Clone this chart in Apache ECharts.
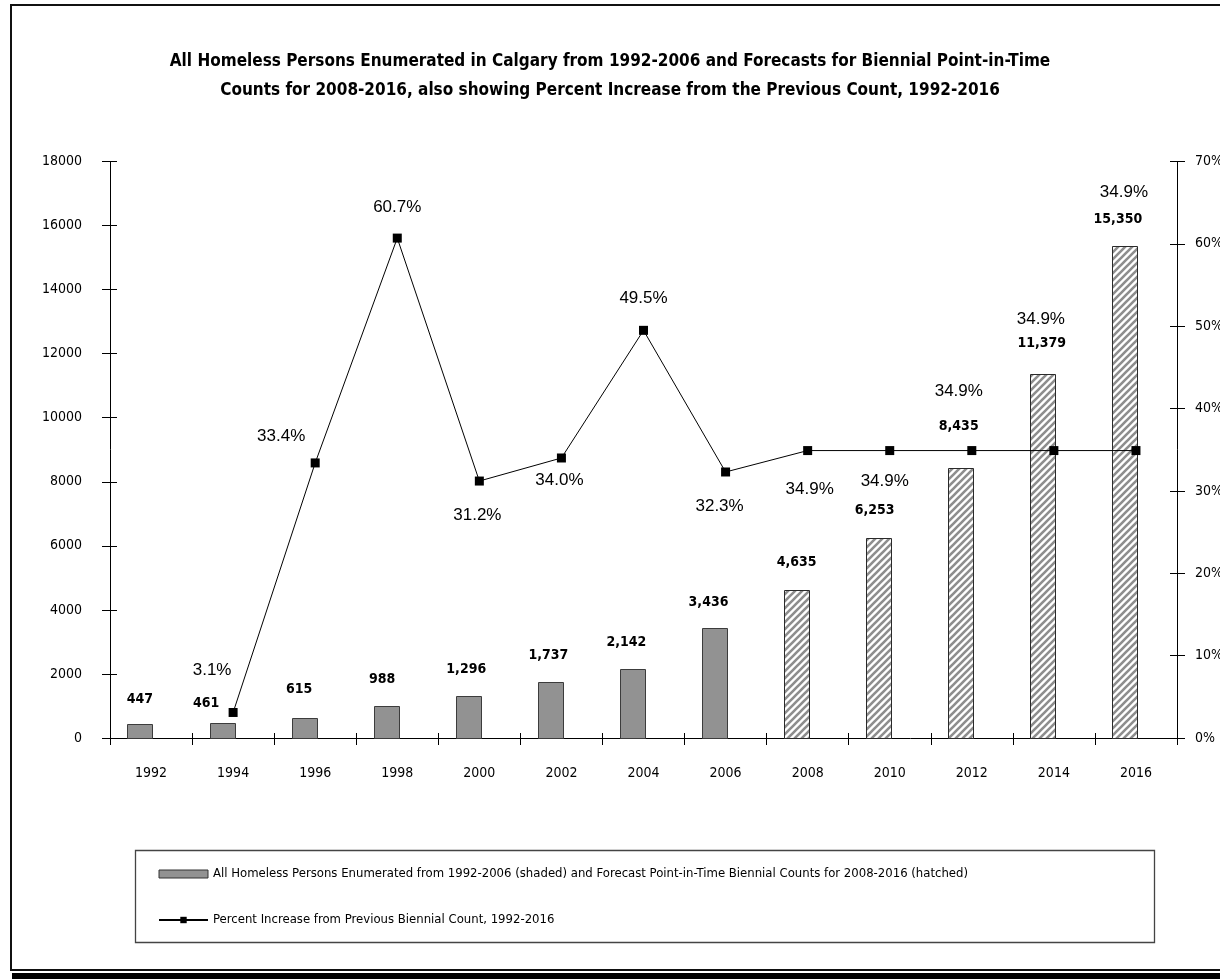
<!DOCTYPE html>
<html>
<head>
<meta charset="utf-8">
<script src="https://cdn.jsdelivr.net/npm/echarts@6/dist/echarts.min.js"></script>
<style>
html,body{margin:0;padding:0;background:#fff;}
#chart{width:1220px;height:979px;}
</style>
</head>
<body>
<div id="chart"></div>
<script>
// ---------- DATA ----------
const years = ['1992','1994','1996','1998','2000','2002','2004','2006','2008','2010','2012','2014','2016'];
const homelessCounts = [447, 461, 615, 988, 1296, 1737, 2142, 3436, 4635, 6253, 8435, 11379, 15350];
const percentIncrease = [null, 3.1, 33.4, 60.7, 31.2, 34.0, 49.5, 32.3, 34.9, 34.9, 34.9, 34.9, 34.9];
const firstForecastYear = '2008';
const leftTicks = [0, 2000, 4000, 6000, 8000, 10000, 12000, 14000, 16000, 18000];
const rightTicks = [0, 10, 20, 30, 40, 50, 60, 70];

const titleText = 'All Homeless Persons Enumerated in Calgary from 1992-2006 and Forecasts for Biennial Point-in-Time\nCounts for 2008-2016, also showing Percent Increase from the Previous Count, 1992-2016';
const barSeriesName = 'All Homeless Persons Enumerated from 1992-2006 (shaded) and Forecast Point-in-Time Biennial Counts for 2008-2016 (hatched)';
const lineSeriesName = 'Percent Increase from Previous Biennial Count, 1992-2016';

// ---------- STYLE / LABEL PLACEMENT (pixels, not data) ----------
const barLabelNudge = [[0,-24],[-16,-20],[-5,-29],[-4,-27],[-2,-27],[-2,-27],[-6,-27],[-6,-26],[0,-27],[-4,-27],[-2,-41],[-1,-30],[-7,-27]];
const lineLabelNudge = [null,[-21,-42],[-34,-27],[0,-31],[-2,34],[-2,22],[0,-32],[-6,34],[2,39],[-5,31],[-13,-59],[-13,-131],[-12,-258]];

const NARROW = '"Liberation Sans Narrow","Arial Narrow","DejaVu Sans Condensed",sans-serif';
const REG = '"Liberation Sans",Arial,sans-serif';

function makeHatch() {
  const n = 7;
  const c = document.createElement('canvas');
  c.width = n; c.height = n;
  const g = c.getContext('2d');
  g.fillStyle = '#ffffff';
  g.fillRect(0, 0, n, n);
  g.strokeStyle = '#8e8e8e';
  g.lineWidth = 2.6;
  g.beginPath();
  for (const o of [-n, 0, n]) {
    g.moveTo(o - 1, n + 1);
    g.lineTo(o + n + 1, -1);
  }
  g.stroke();
  return c;
}
const hatchPattern = { image: makeHatch(), repeat: 'repeat' };
const forecastIdx = years.indexOf(firstForecastYear);

const fmtThousands = v => String(v).replace(/\B(?=(\d{3})+(?!\d))/g, ',');

const chart = echarts.init(document.getElementById('chart'));

const axisLineStyle = { show: true, lineStyle: { color: '#000', width: 1 } };

const option = {
  backgroundColor: '#fff',
  animation: false,
  title: {
    text: titleText,
    left: 'center',
    top: 42,
    textStyle: { fontFamily: NARROW, fontSize: 17, fontWeight: 'bold', color: '#000', lineHeight: 29 }
  },
  grid: { left: 110, right: 43, top: 161.5, bottom: 241, outerBoundsMode: 'none' },
  legend: {
    orient: 'vertical',
    left: 158,
    top: 866,
    itemGap: 30,
    itemWidth: 49,
    itemHeight: 8,
    padding: 0,
    textStyle: { fontFamily: NARROW, fontSize: 13, color: '#000', lineHeight: 16 },
    data: [
      { name: barSeriesName, icon: 'rect', itemStyle: { color: '#929292', borderColor: '#333', borderWidth: 1 } },
      { name: lineSeriesName }
    ]
  },
  xAxis: [
    {
      type: 'category',
      data: years,
      boundaryGap: true,
      axisLine: axisLineStyle,
      axisTick: { show: true, length: 7, alignWithLabel: false, lineStyle: { color: '#000' } },
      axisLabel: { color: '#000', fontFamily: NARROW, fontSize: 14, margin: 28 },
      splitLine: { show: false }
    },
    {
      type: 'category',
      data: years,
      position: 'bottom',
      boundaryGap: true,
      axisLine: { show: false },
      axisTick: { show: true, inside: true, length: 5, lineStyle: { color: '#000' } },
      axisLabel: { show: false },
      splitLine: { show: false }
    }
  ],
  yAxis: [
    {
      type: 'value', position: 'left', min: leftTicks[0], max: leftTicks[leftTicks.length - 1], interval: leftTicks[1] - leftTicks[0],
      axisLine: axisLineStyle,
      axisTick: { show: true, length: 8, lineStyle: { color: '#000' } },
      axisLabel: { color: '#000', fontFamily: NARROW, fontSize: 14, margin: 28, formatter: v => String(v) },
      splitLine: { show: false }
    },
    {
      type: 'value', position: 'right', min: rightTicks[0], max: rightTicks[rightTicks.length - 1], interval: rightTicks[1] - rightTicks[0],
      axisLine: axisLineStyle,
      axisTick: { show: true, length: 8, lineStyle: { color: '#000' } },
      axisLabel: { color: '#000', fontFamily: NARROW, fontSize: 14, margin: 18, formatter: v => v + '%' },
      splitLine: { show: false }
    },
    {
      type: 'value', position: 'left', min: leftTicks[0], max: leftTicks[leftTicks.length - 1], interval: leftTicks[1] - leftTicks[0],
      axisLine: { show: false },
      axisTick: { show: true, inside: true, length: 7, lineStyle: { color: '#000' } },
      axisLabel: { show: false }, splitLine: { show: false }
    },
    {
      type: 'value', position: 'right', min: rightTicks[0], max: rightTicks[rightTicks.length - 1], interval: rightTicks[1] - rightTicks[0],
      axisLine: { show: false },
      axisTick: { show: true, inside: true, length: 7, lineStyle: { color: '#000' } },
      axisLabel: { show: false }, splitLine: { show: false }
    }
  ],
  graphic: [
    { type: 'rect', silent: true, z: -1, shape: { x: 11, y: 5, width: 1215, height: 965 }, style: { fill: 'none', stroke: '#111', lineWidth: 2 } },
    { type: 'rect', silent: true, shape: { x: 12, y: 973, width: 1215, height: 7 }, style: { fill: '#000' } },
    { type: 'rect', silent: true, z: -1, shape: { x: 135.5, y: 850.5, width: 1019, height: 92 }, style: { fill: 'none', stroke: '#444', lineWidth: 1.3 } }
  ],
  series: [
    {
      name: barSeriesName,
      type: 'custom',
      xAxisIndex: 0,
      yAxisIndex: 0,
      itemStyle: { color: '#929292' },
      encode: { x: 0, y: 1 },
      data: homelessCounts.map((v, i) => [i, v]),
      renderItem: function (params, api) {
        const i = api.value(0);
        const v = api.value(1);
        const top = api.coord([i, v]);
        const base = api.coord([i, 0]);
        const band = api.size([1, 0])[0];
        const w = band * 0.305;
        const cx = top[0] - band * 0.135;
        const nudge = barLabelNudge[i] || [0, -27];
        const forecast = i >= forecastIdx;
        return {
          type: 'group',
          children: [
            {
              type: 'rect',
              shape: { x: Math.round(cx - w / 2) + 0.5, y: Math.round(top[1]) + 0.5, width: Math.round(w), height: Math.round(base[1]) - Math.round(top[1]) },
              style: { fill: forecast ? hatchPattern : '#929292', stroke: forecast ? '#2a2a2a' : '#3c3c3c', lineWidth: 1 }
            },
            {
              type: 'text',
              x: cx + nudge[0],
              y: top[1] + nudge[1],
              style: { text: fmtThousands(v), font: 'bold 14px ' + NARROW, fill: '#000', align: 'center', verticalAlign: 'middle' }
            }
          ]
        };
      },
      z: 2
    },
    {
      name: lineSeriesName,
      type: 'line',
      xAxisIndex: 0,
      yAxisIndex: 1,
      symbol: 'rect',
      symbolSize: 9,
      itemStyle: { color: '#000' },
      lineStyle: { color: '#000', width: 1 },
      z: 5,
      data: percentIncrease.map((v, i) => {
        if (v === null) return '-';
        const off = lineLabelNudge[i] || [0, -30];
        return {
          value: v,
          label: {
            show: true,
            position: 'inside',
            offset: off,
            formatter: p => p.value.toFixed(1) + '%',
            fontFamily: REG, fontSize: 17, color: '#000'
          }
        };
      })
    }
  ]
};
chart.setOption(option);
</script>
</body>
</html>
